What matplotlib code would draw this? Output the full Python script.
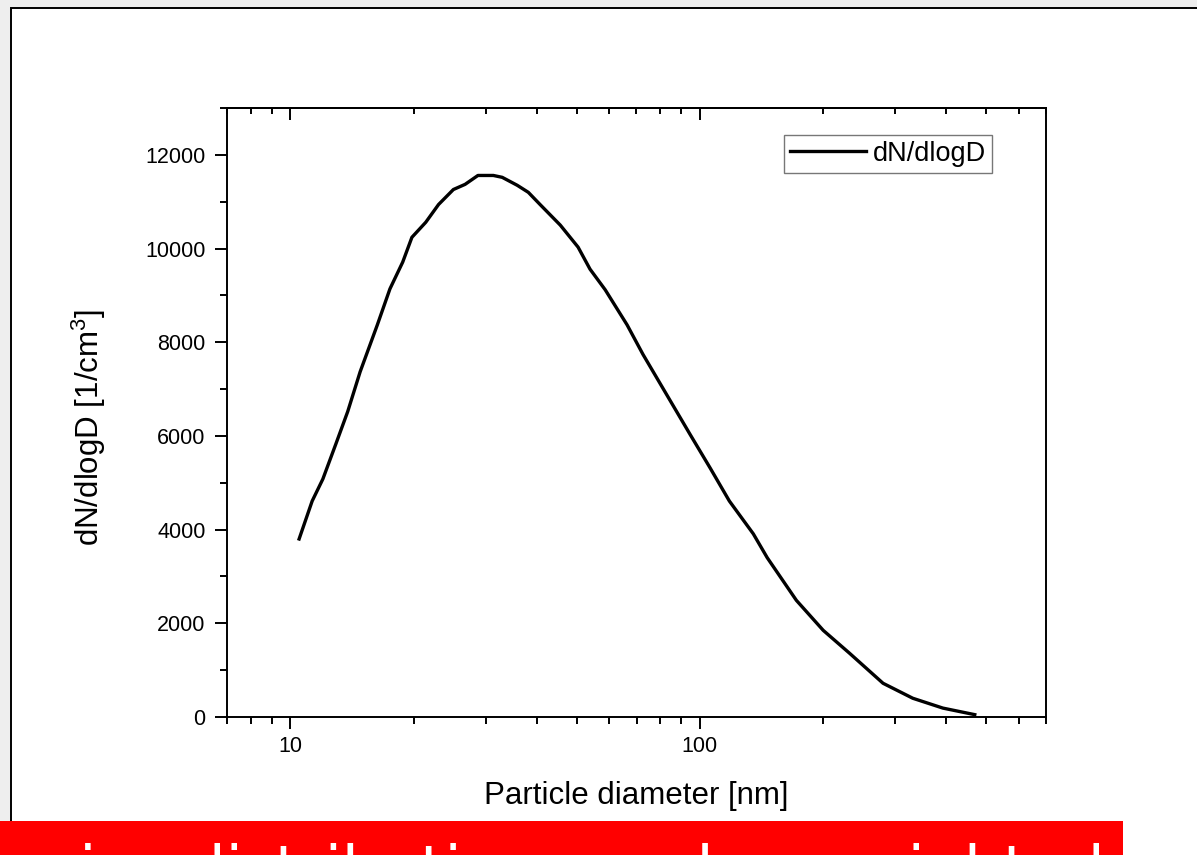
import numpy as np
import matplotlib
matplotlib.use('Agg')
import matplotlib.pyplot as plt
from matplotlib.patches import Rectangle
from matplotlib.ticker import MultipleLocator, NullFormatter, FixedLocator, FixedFormatter

# Particle size distribution
diameter_nm = [10.5, 11.3, 12.0, 12.9, 13.8, 14.8, 16.3, 17.5, 18.8, 19.8,
               21.4, 23.0, 25.0, 26.7, 28.7, 31.3, 32.9, 35.8, 38.1, 40.7,
               45.6, 50.4, 53.9, 58.7, 66.4, 72.6, 81.3, 94.5, 106, 118,
               135, 146, 172, 200, 232, 280, 331, 392, 469]
dn_dlogd = [3800, 4610, 5080, 5820, 6520, 7370, 8370, 9140, 9710, 10240,
            10560, 10940, 11260, 11370, 11560, 11560, 11520, 11350, 11200, 10940,
            10500, 10030, 9560, 9120, 8370, 7740, 7010, 6040, 5310, 4610,
            3910, 3400, 2490, 1850, 1360, 720, 400, 190, 50]

x_ticks = [10, 100]
x_ticklabels = ['10', '100']
series_label = 'dN/dlogD'
banner_text = 'size distribution number weighted'

plt.rcParams['font.family'] = ['Liberation Sans', 'DejaVu Sans']
plt.rcParams['mathtext.default'] = 'regular'

W, H = 1197, 855
fig = plt.figure(figsize=(W / 100, H / 100), dpi=100)
fig.patch.set_facecolor('#eeeeee')

# white window with black border (left and top visible)
fig.add_artist(Rectangle((11 / W, -0.1), 1.2, (H - 7.8) / H + 0.1,
                         transform=fig.transFigure, facecolor='white',
                         edgecolor='black', linewidth=1.4, zorder=-1))

ax = fig.add_axes([227 / W, (H - 717) / H, 819 / W, 609 / H])
ax.plot(diameter_nm, dn_dlogd, color='black', linewidth=2.4, label=series_label)

ax.set_xscale('log')
ax.set_xlim(7, 700)
ax.set_ylim(0, 13000)
ax.xaxis.set_major_locator(FixedLocator(x_ticks))
ax.xaxis.set_major_formatter(FixedFormatter(x_ticklabels))
ax.xaxis.set_minor_formatter(NullFormatter())
ax.yaxis.set_major_locator(MultipleLocator(2000))
ax.yaxis.set_minor_locator(MultipleLocator(1000))

ax.tick_params(which='both', direction='out', width=1.4, labelsize=15.5,
               top=False, right=False, colors='black')
ax.tick_params(which='major', length=8.5)
ax.tick_params(which='minor', length=5)
ax.tick_params(axis='x', pad=5)
ax.tick_params(axis='y', pad=7)
for s in ax.spines.values():
    s.set_linewidth(1.4)

# top axis: inward ticks, no labels
top = ax.secondary_xaxis('top')
top.xaxis.set_major_locator(FixedLocator(x_ticks))
top.xaxis.set_major_formatter(NullFormatter())
top.xaxis.set_minor_formatter(NullFormatter())
top.tick_params(which='both', direction='in', width=1.4)
top.tick_params(which='major', length=8.5)
top.tick_params(which='minor', length=4)
top.spines['top'].set_linewidth(1.4)

ax.set_xlabel('Particle diameter [nm]', fontsize=22.5)
ax.set_ylabel('dN/dlogD [1/cm$^{3}$]', fontsize=22.5)
ax.xaxis.set_label_coords(0.5, -0.105)
ax.yaxis.set_label_coords(-0.145, 0.475)

leg = ax.legend(loc='upper right', bbox_to_anchor=(0.934, 0.956),
                borderaxespad=0, fontsize=19.5, fancybox=False,
                edgecolor='#555555', handlelength=2.8, handletextpad=0.25,
                borderpad=0.22)
leg.get_frame().set_linewidth(1.0)

# red caption banner at the bottom, text cut off by the image edge
fig.add_artist(Rectangle((0, 0), 1123 / W, (H - 820.7) / H,
                         transform=fig.transFigure, facecolor='#ff0000',
                         edgecolor='none', zorder=5))
fig.text(47 / W, (H - 890) / H, banner_text, color='white',
         fontsize=44.6, family='DejaVu Sans', va='baseline', zorder=6)

fig.savefig('out.png', dpi=100, facecolor=fig.get_facecolor())
